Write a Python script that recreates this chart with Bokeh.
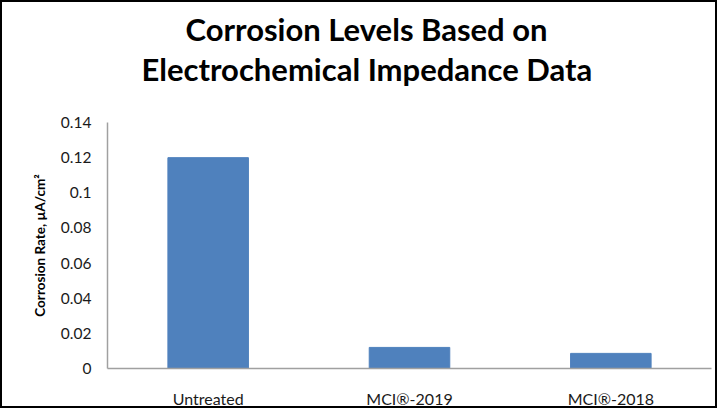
from bokeh.plotting import figure
from bokeh.models import FactorRange, Range1d, FixedTicker, Title
from bokeh.embed import file_html
from bokeh.resources import INLINE

categories = ["Untreated", "MCI®-2019", "MCI®-2018"]
corrosion_rate = [0.12, 0.012, 0.0086]
y_ticks = [0, 0.02, 0.04, 0.06, 0.08, 0.1, 0.12, 0.14]
y_tick_labels = ["0", "0.02", "0.04", "0.06", "0.08", "0.1", "0.12", "0.14"]
title_lines = ["Corrosion Levels Based on", "Electrochemical Impedance Data"]
y_title = "Corrosion Rate, µA/cm²"

FONT = "Lato"

p = figure(
    width=717, height=408,
    x_range=FactorRange(*categories, range_padding=0),
    y_range=Range1d(0, 0.14),
    output_backend="svg", toolbar_location=None,
    min_border_left=105, min_border_right=8, min_border_bottom=42, min_border_top=10,
)
p.title = None
p.styles = {"border": "2px solid black"}
p.outline_line_color = None
p.background_fill_color = "white"
p.border_fill_color = "white"

p.vbar(x=categories, top=corrosion_rate, width=0.4, color="#4f81bd", line_color="#4f81bd")

spacer = Title(text=" ", text_font=FONT, text_font_size="10px", standoff=21)
t2 = Title(text=title_lines[1], align="left", offset=34, text_font=FONT, text_font_size="31px",
           text_font_style="bold", text_color="black", text_line_height=1.0, standoff=0)
t1 = Title(text=title_lines[0], align="left", offset=78, text_font=FONT, text_font_size="31px",
           text_font_style="bold", text_color="black", text_line_height=1.0, standoff=0)
top_pad = Title(text=" ", text_font=FONT, text_font_size="1px", standoff=2)
p.add_layout(spacer, "above")
p.add_layout(t2, "above")
p.add_layout(t1, "above")
p.add_layout(top_pad, "above")

p.xgrid.grid_line_color = None
p.ygrid.grid_line_color = None

for ax in (p.xaxis[0], p.yaxis[0]):
    ax.axis_line_color = "#a0a0a0"
    ax.axis_line_width = 1.5
    ax.major_tick_line_color = None
    ax.minor_tick_line_color = None
    ax.major_label_text_font = FONT
    ax.major_label_text_color = "#1a1a1a"

p.xaxis.major_label_text_font_size = "16px"
p.xaxis.major_label_standoff = 14
p.yaxis.major_label_text_font_size = "15.5px"
p.yaxis.ticker = FixedTicker(ticks=y_ticks)
p.yaxis.major_label_overrides = {t: l for t, l in zip(y_ticks, y_tick_labels)}
p.yaxis.major_label_standoff = 10
p.yaxis.axis_label = y_title
p.yaxis.axis_label_text_font = FONT
p.yaxis.axis_label_text_font_size = "13.5px"
p.yaxis.axis_label_text_font_style = "bold"
p.yaxis.axis_label_text_color = "black"
p.yaxis.axis_label_standoff = 10

open("out.html", "w").write(file_html(p, INLINE))
